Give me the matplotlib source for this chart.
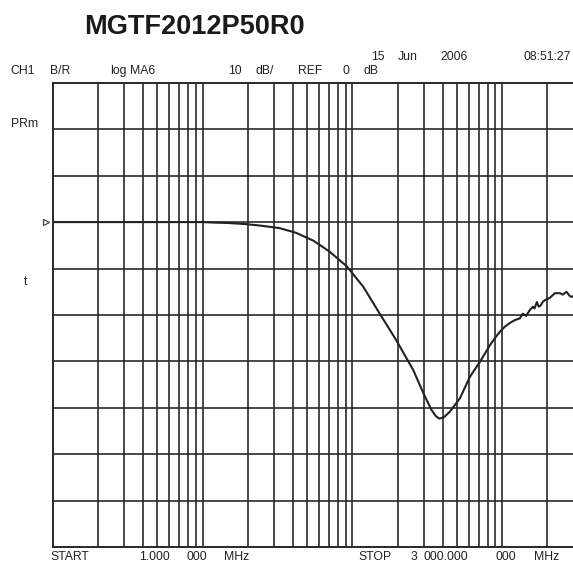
import matplotlib.pyplot as plt
import matplotlib.transforms as mtransforms
from matplotlib.ticker import LogLocator, NullFormatter, MultipleLocator

plt.rcParams['font.family'] = ['Liberation Sans', 'DejaVu Sans']

# trace (MHz, dB)
freq_mhz = [1, 2, 5, 10, 11.7, 15, 19.7, 25, 32.7, 42, 54.9, 70, 91.5, 118, 152, 196,
            255, 298, 338, 361, 380, 408, 447, 522, 608, 709, 765, 826, 892, 963,
            1041, 1124, 1213, 1310, 1370, 1440, 1528, 1600, 1640, 1701, 1750, 1809,
            1860, 1924, 2000, 2077, 2243, 2423, 2530, 2680, 2820, 2913, 3000]
gain_db = [0, 0, 0, 0, -0.1, -0.2, -0.45, -0.8, -1.3, -2.3, -4.0, -6.3, -9.5, -13.9,
           -19.7, -25.4, -31.9, -36.9, -40.5, -41.8, -42.3, -42.0, -40.8, -37.9, -33.3,
           -30.1, -28.3, -26.5, -25.0, -23.6, -22.5, -21.7, -21.1, -20.7, -19.7, -20.2,
           -18.9, -18.2, -18.6, -17.2, -18.2, -17.9, -17.2, -16.8, -16.6, -16.3, -15.3,
           -15.3, -15.6, -15.0, -15.9, -16.1, -15.8]

start_mhz = 1
stop_mhz = 3000
ref_db = 0
db_top = 30
db_bottom = -70

# header / footer words and their left x (pixels)
top_row = [('CH1', 10), ('B/R', 50), ('log', 110), ('MA6', 130), ('10', 228),
           ('dB/', 256), ('REF', 298), ('0', 342.5), ('dB', 364)]
date_row = [('15', 371), ('Jun', 398), ('2006', 440)]
bottom_row = [('START', 50.5), ('1.000', 139), ('000', 186.5), ('MHz', 224),
              ('STOP', 358), ('3', 411), ('000.000', 424), ('000', 496), ('MHz', 534)]

fig = plt.figure(figsize=(5.73, 5.65), dpi=100)
ax = fig.add_axes([0.092, 0.0313, 0.9094, 0.8223])

ax.plot(freq_mhz, gain_db, color='#222222', lw=1.5, zorder=3)

ax.set_xscale('log')
ax.set_xlim(start_mhz, stop_mhz)
ax.set_ylim(db_bottom, db_top)
ax.xaxis.set_major_locator(LogLocator(base=10, subs=range(1, 10)))
ax.xaxis.set_minor_locator(LogLocator(base=10, subs=[]))
ax.xaxis.set_major_formatter(NullFormatter())
ax.xaxis.set_minor_formatter(NullFormatter())
ax.yaxis.set_major_locator(MultipleLocator(10))
ax.set_yticklabels([])
ax.tick_params(which='both', length=0)
ax.grid(True, which='major', color='#2a2a2a', lw=1.2)
for s in ax.spines.values():
    s.set_color('#2a2a2a')
    s.set_linewidth(1.4)

# reference marker
trans = mtransforms.blended_transform_factory(ax.transAxes, ax.transData)
ax.plot([-0.013], [ref_db], marker='>', ms=5, mfc='white', mec='#444444', mew=0.9,
        transform=trans, clip_on=False)

fig.text(84 / 573, 1 - 27 / 565, 'MGTF2012P50R0', fontsize=19.5, fontweight='bold',
         color='#1a1a1a', va='center', ha='left')

small = dict(fontsize=8.8, color='#222222', va='center', ha='left')
for word, x in top_row:
    fig.text(x / 573, 1 - 71 / 565, word, **small)
for word, x in date_row:
    fig.text(x / 573, 1 - 57 / 565, word, **small)
fig.text(571 / 573, 1 - 57 / 565, '08:51:27', fontsize=8.8, color='#222222',
         va='center', ha='right')
for word, x in bottom_row:
    fig.text(x / 573, 1 - 557 / 565, word, **small)
fig.text(11 / 573, 1 - 124 / 565, 'PRm', **small)
fig.text(24 / 573, 1 - 282 / 565, 't', **small)

fig.savefig('out.png', dpi=100)
